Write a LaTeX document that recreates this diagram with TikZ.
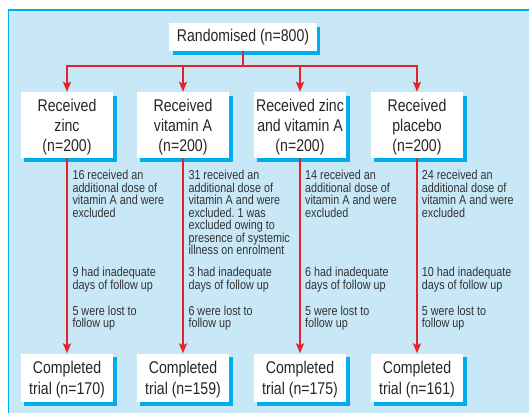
\documentclass[tikz,border=0pt]{standalone}
\usepackage{fontspec}
\setmainfont{Liberation Sans}[FakeStretch=0.83]
\usetikzlibrary{arrows.meta,shadows}
\definecolor{bgblue}{HTML}{C8E8F8}
\definecolor{shcyan}{HTML}{00AEEF}
\definecolor{flowred}{HTML}{E42228}
\frenchspacing
\begin{document}
\begin{tikzpicture}[x=1pt,y=-1pt,
  box/.style={fill=white, inner sep=0pt, align=center,
    font=\fontsize{17}{20}\selectfont, text=black!85,
    drop shadow={shadow xshift=3.5pt, shadow yshift=-3.5pt, fill=shcyan, opacity=1}},
  recbox/.style={box, minimum width=92.5pt, minimum height=66pt, text depth=-1.6pt},
  compbox/.style={box, minimum width=92.5pt, minimum height=48.5pt, text depth=-2pt,
    font=\fontsize{17}{21}\selectfont},
  lbl/.style={anchor=north west, inner sep=0pt, align=left,
    font=\fontsize{13}{12.5}\selectfont\frenchspacing, text=black!80},
  redline/.style={draw=flowred, line width=1.8pt},
  redarrow/.style={redline, -{Stealth[length=10pt, width=8pt, inset=2pt]}}
]
\useasboundingbox (0,0) rectangle (529,413);
\fill[bgblue] (8.5,10) rectangle (529,413);
\draw[shcyan, line width=1.3pt] (8.5,413) -- (8.5,10) -- (529,10);

\node[box, minimum width=147.5pt, minimum height=28pt] (rand) at (243,37) {Randomised (n=800)};

\node[recbox] (r1) at (67,125) {Received\\zinc\\(n=200)};
\node[recbox] (r2) at (183,125) {Received\\vitamin A\\(n=200)};
\node[recbox] (r3) at (300,125) {Received zinc\\and vitamin A\\(n=200)};
\node[recbox] (r4) at (417,125) {Received\\placebo\\(n=200)};

\node[compbox] (c1) at (67,377.8) {Completed\\trial (n=170)};
\node[compbox] (c2) at (183,377.8) {Completed\\trial (n=159)};
\node[compbox] (c3) at (300,377.8) {Completed\\trial (n=175)};
\node[compbox] (c4) at (417,377.8) {Completed\\trial (n=161)};

\coordinate (hub) at (243,66);
\draw[redline] (rand.south) -- (hub);
\foreach \r in {r1,r2,r3,r4} \draw[redarrow] (hub) -| (\r.north);
\foreach \i in {1,2,3,4} \draw[redarrow] (r\i.south) -- (c\i.north);

\node[lbl] (a1) at (72.3,170.2) {16 received an\\additional dose of\\vitamin A and were\\excluded};
\node[lbl] (b1) at (72.3,267) {9 had inadequate\\days of follow up};
\node[lbl] (d1) at (72.3,305.4) {5 were lost to\\follow up};

\node[lbl] (a2) at (188.3,170.2) {31 received an\\additional dose of\\vitamin A and were\\excluded. 1 was\\excluded owing to\\presence of systemic\\illness on enrolment};
\node[lbl] (b2) at (188.3,267) {3 had inadequate\\days of follow up};
\node[lbl] (d2) at (188.3,305.4) {6 were lost to\\follow up};

\node[lbl] (a3) at (305,170.2) {14 received an\\additional dose of\\vitamin A and were\\excluded};
\node[lbl] (b3) at (305,267) {6 had inadequate\\days of follow up};
\node[lbl] (d3) at (305,305.4) {5 were lost to\\follow up};

\node[lbl] (a4) at (421.7,170.2) {24 received an\\additional dose of\\vitamin A and were\\excluded};
\node[lbl] (b4) at (421.7,267) {10 had inadequate\\days of follow up};
\node[lbl] (d4) at (421.7,305.4) {5 were lost to\\follow up};
\end{tikzpicture}
\end{document}
